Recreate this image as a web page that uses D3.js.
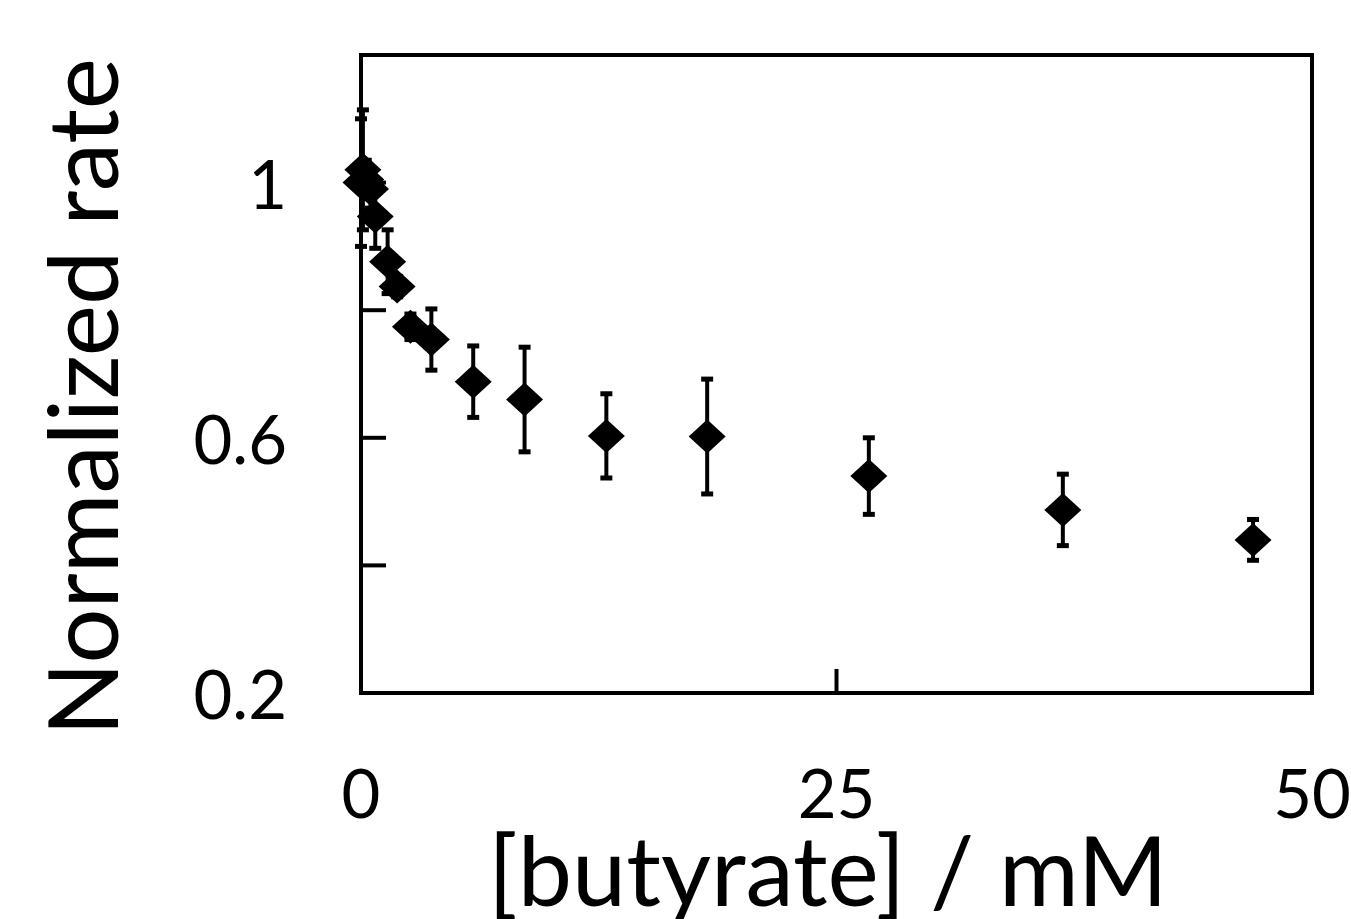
<!DOCTYPE html>
<html>
<head>
<meta charset="utf-8">
<script src="https://cdn.jsdelivr.net/npm/d3@7"></script>
<style>
  body { margin: 0; background: #fff; }
  text { font-family: Lato, "Open Sans", sans-serif; fill: #000; }
</style>
</head>
<body>
<script>
const WIDTH  = 1351;
const HEIGHT = 919;

// datos
const conc = [0, 0.1, 0.25, 0.5, 0.75, 1.4, 1.9, 2.6, 3.7, 5.9, 8.6, 12.9, 18.2, 26.7, 36.9, 46.9];
const rate = [1.0, 1.02, 1.005, 0.99, 0.947, 0.876, 0.837, 0.774, 0.754, 0.688, 0.66, 0.603, 0.602, 0.54, 0.487, 0.44];
const err  = [0.1, 0.094, 0.03, 0.03, 0.05, 0.05, 0.016, 0.02, 0.048, 0.056, 0.082, 0.066, 0.09, 0.06, 0.056, 0.032];

const xTicks = [0, 25, 50];
const yTicks = [0.2, 0.4, 0.6, 0.8, 1.0, 1.2];
const yLabels = [0.2, 0.6, 1.0];

const mLeft = 361, mRight = 1312, mTop = 55, mBottom = 693;

let svg = d3.select('body').append('svg')
    .attr('width', WIDTH)
    .attr('height', HEIGHT);

let x = d3.scaleLinear().domain([0, 50]).range([mLeft, mRight]);
let y = d3.scaleLinear().domain([0.2, 1.2]).range([mBottom, mTop]);

// marco
svg.append('rect')
    .attr('x', mLeft).attr('y', mTop)
    .attr('width', mRight - mLeft).attr('height', mBottom - mTop)
    .attr('fill', 'none').attr('stroke', '#000').attr('stroke-width', 4);

// ticks hacia adentro
svg.selectAll('.ytick').data(yTicks.slice(1, -1)).join('line')
    .attr('x1', mLeft).attr('x2', mLeft + 25)
    .attr('y1', d => y(d)).attr('y2', d => y(d))
    .attr('stroke', '#000').attr('stroke-width', 4);

svg.selectAll('.xtick').data(xTicks.slice(1, -1)).join('line')
    .attr('x1', d => x(d)).attr('x2', d => x(d))
    .attr('y1', mBottom).attr('y2', mBottom - 24)
    .attr('stroke', '#000').attr('stroke-width', 4);

// etiquetas
svg.selectAll('.ylab').data(yLabels).join('text')
    .attr('x', 287).attr('y', d => y(d))
    .attr('text-anchor', 'end').attr('dominant-baseline', 'central')
    .attr('font-size', 67)
    .text(d => d3.format('~g')(d));

svg.selectAll('.xlab').data(xTicks).join('text')
    .attr('x', d => x(d)).attr('y', 818)
    .attr('text-anchor', 'middle')
    .attr('font-size', 67)
    .text(d => d);

svg.append('text')
    .attr('transform', 'translate(118,397) rotate(-90)')
    .attr('text-anchor', 'middle')
    .attr('font-size', 97)
    .text('Normalized rate');

svg.append('text')
    .attr('x', 828).attr('y', 906)
    .attr('text-anchor', 'middle')
    .attr('font-size', 97)
    .text('[butyrate] / mM');

// barras de error
const pts = conc.map((c, i) => ({c: c, r: rate[i], e: err[i]}));

let eb = svg.append('g').attr('stroke', '#000').attr('stroke-width', 4);
pts.forEach(p => {
    eb.append('line')
        .attr('x1', x(p.c)).attr('x2', x(p.c))
        .attr('y1', y(p.r - p.e)).attr('y2', y(p.r + p.e));
    [p.r - p.e, p.r + p.e].forEach(v => {
        eb.append('line')
            .attr('x1', x(p.c) - 6).attr('x2', x(p.c) + 6)
            .attr('y1', y(v)).attr('y2', y(v))
            .attr('stroke-width', 5);
    });
});

// rombos
svg.selectAll('.pt').data(pts).join('path')
    .attr('d', 'M0,-17L18.5,0L0,17L-18.5,0Z')
    .attr('transform', d => `translate(${x(d.c)},${y(d.r)})`)
    .attr('fill', '#000');
</script>
</body>
</html>
